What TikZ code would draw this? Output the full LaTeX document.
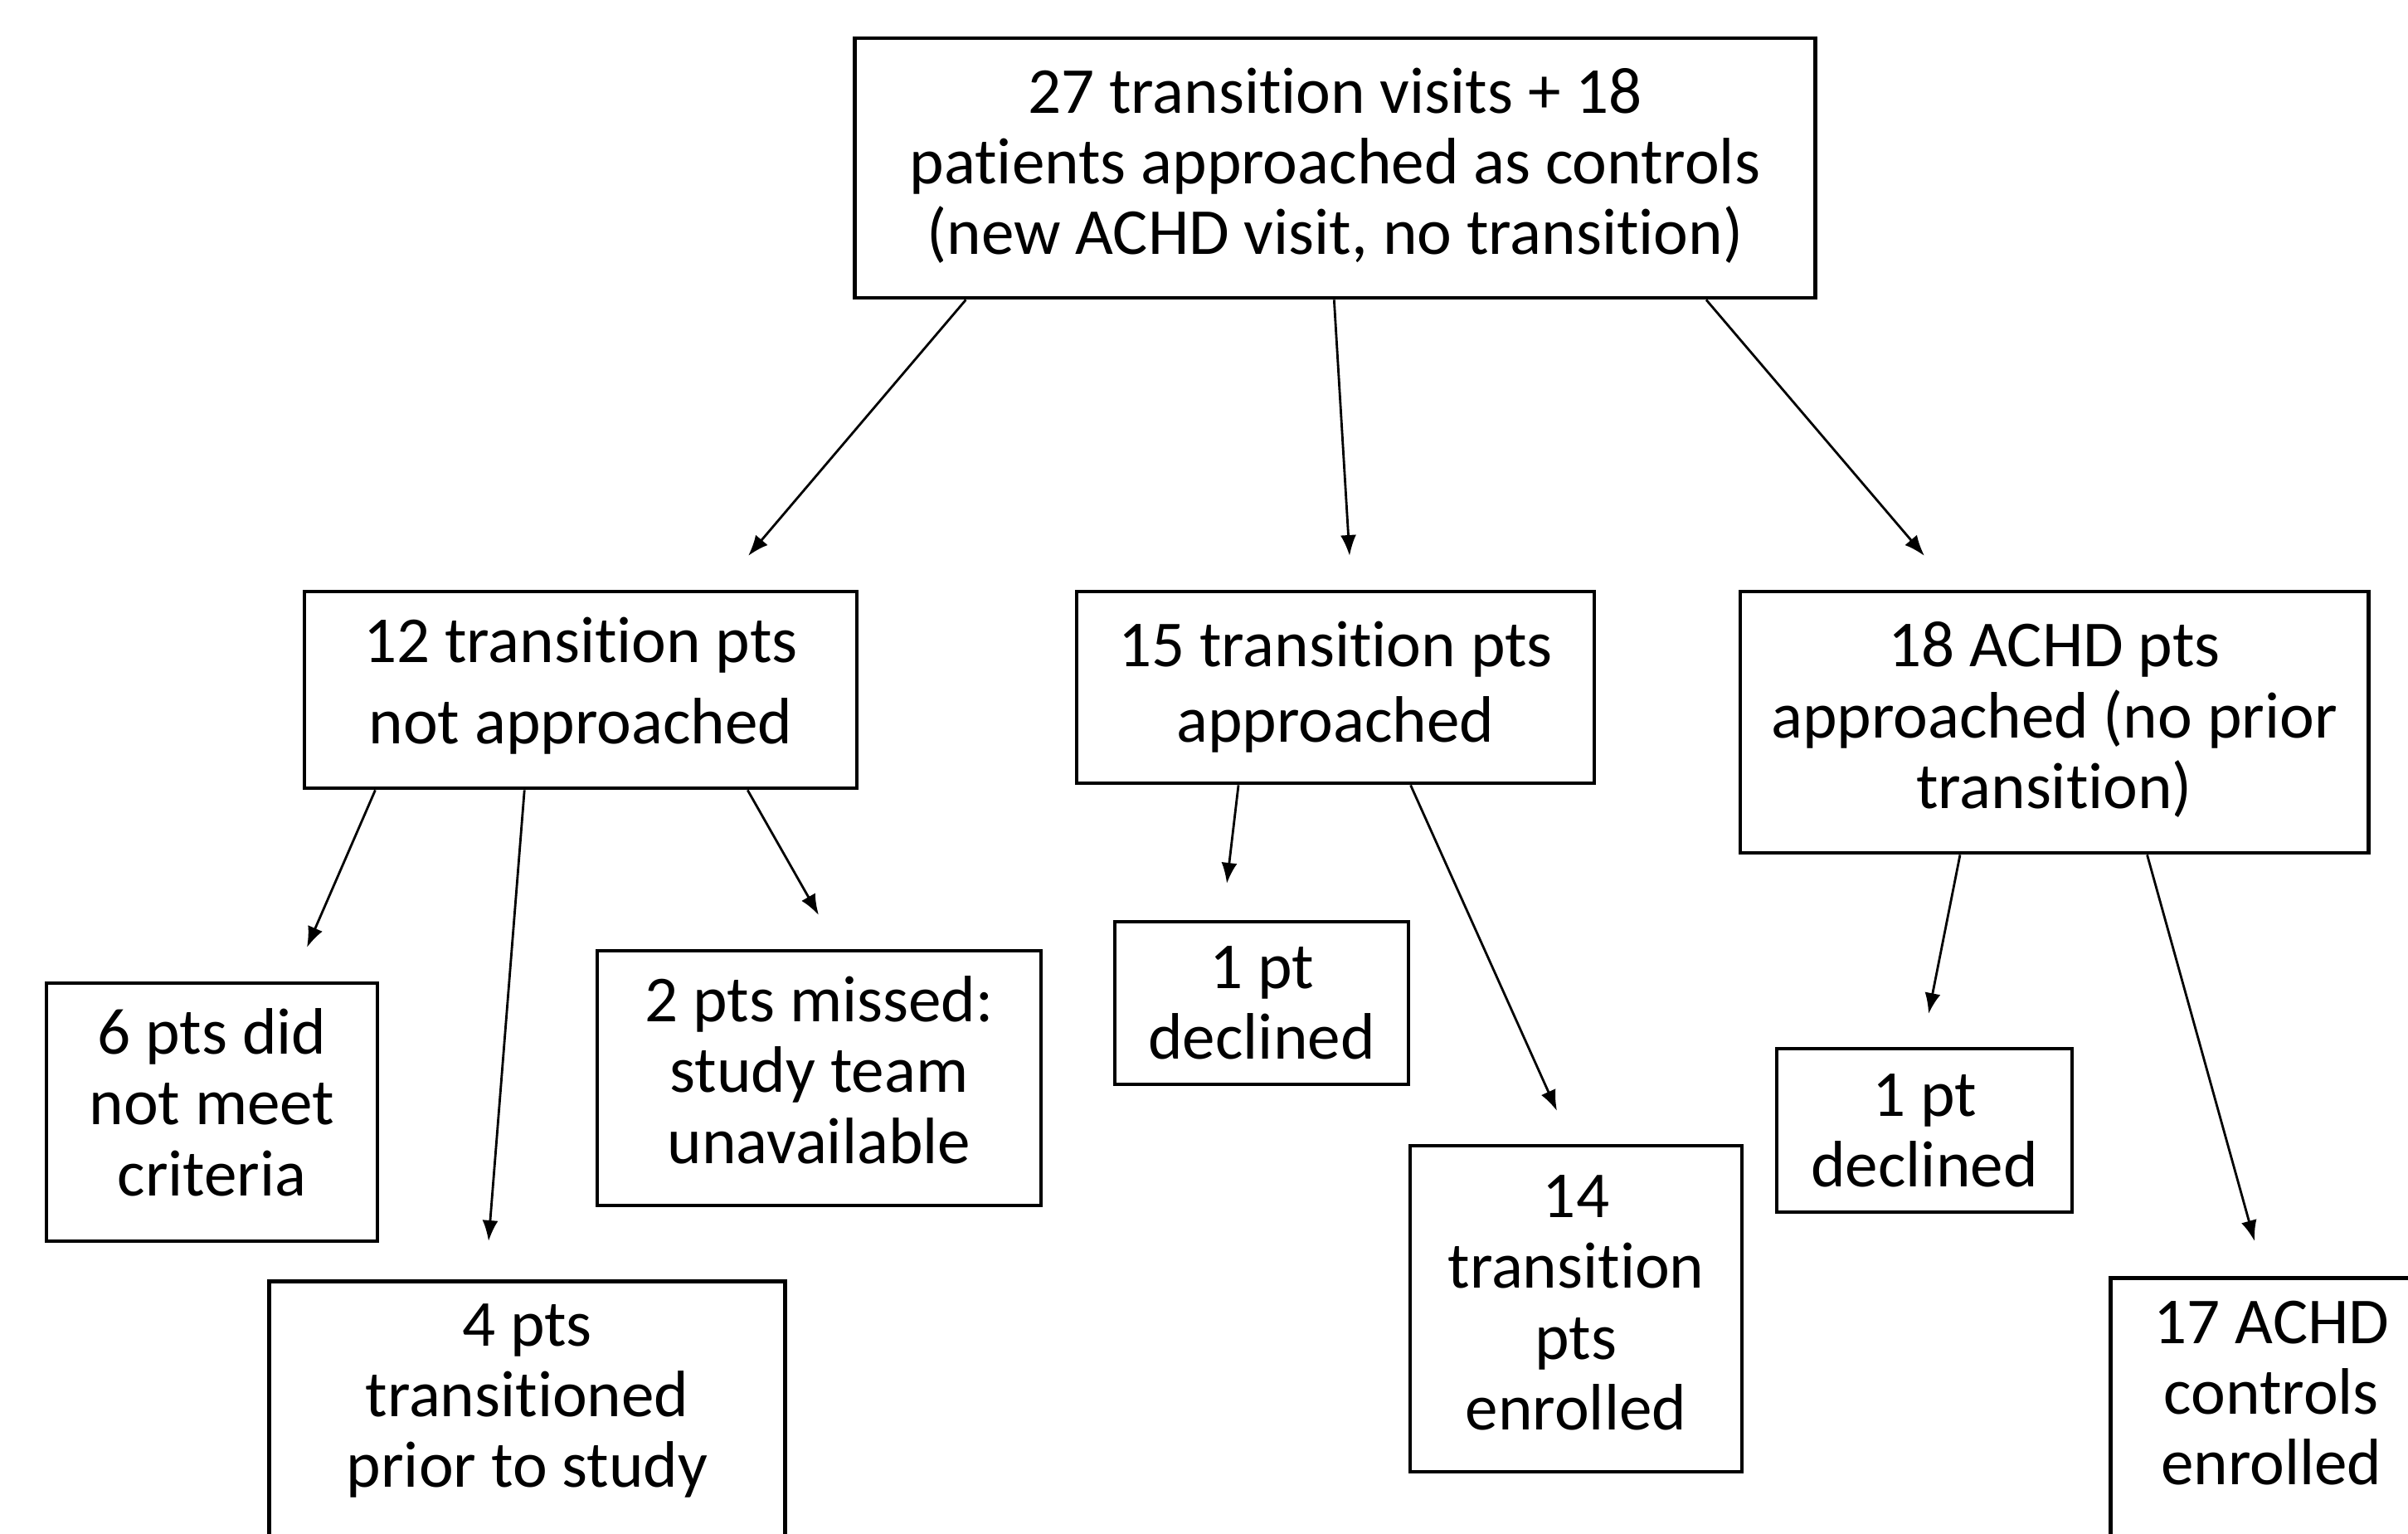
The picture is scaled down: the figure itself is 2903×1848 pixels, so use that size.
\documentclass[tikz,border=0pt]{standalone}
\usepackage{fontspec}
\setmainfont[Ligatures=NoCommon]{Carlito}
\usetikzlibrary{arrows.meta,calc}
\begin{document}
\begin{tikzpicture}[x=0.01cm,y=-0.01cm,
  box/.style={draw, line width=1.3pt, align=center, inner sep=0pt,
    font=\fontsize{22.5}{24.2}\selectfont},
  cutbox/.style={draw, line width=1.3pt, inner sep=0pt, anchor=north west,
    font=\fontsize{22.5}{24.2}\selectfont},
  raisetext/.style={execute at end node={\rule[-#1]{0pt}{0pt}}},
  arr/.style={line width=0.8pt, -{Latex[length=0.25cm,width=0.19cm]}}]
\useasboundingbox (0,0) rectangle (2903,1848);
\clip (0,0) rectangle (2903,1848);

% boxes
\node[box, raisetext=0.17cm, minimum width=11.57cm, minimum height=3.13cm] (top) at (1609.5,202.5)
  {27 transition visits + 18\\patients approached as controls\\(new ACHD visit, no transition)};
\node[box, raisetext=0.22cm, minimum width=6.66cm, minimum height=2.37cm,
  font=\fontsize{22.5}{27.9}\selectfont] (a) at (700,831.5)
  {12 transition pts\\not approached};
\node[box, raisetext=0.13cm, minimum width=6.24cm, minimum height=2.31cm,
  font=\fontsize{22.5}{25.9}\selectfont] (b) at (1610,828.5)
  {15 transition pts\\approached};
\node[box, raisetext=0.17cm, minimum width=7.57cm, minimum height=3.15cm] (c) at (2476.5,870.5)
  {18 ACHD pts\\approached (no prior\\transition)};

\node[box, raisetext=0.24cm, minimum width=3.99cm, minimum height=3.11cm] (a1) at (255.5,1340.5)
  {6 pts did\\not meet\\criteria};
\node[cutbox] (a2) at (322,1542)
  {\parbox[t][4cm][t]{6.22cm}{\centering\vspace*{0.27cm}4 pts\\transitioned\\prior to study}};
\node[box, raisetext=0.20cm, minimum width=5.35cm, minimum height=3.07cm] (a3) at (987.5,1299.5)
  {2 pts missed:\\study team\\unavailable};

\node[box, minimum width=3.54cm, minimum height=1.96cm] (b1) at (1521,1209)
  {1 pt\\declined};
\node[box, raisetext=0.15cm, minimum width=4.00cm, minimum height=3.93cm] (b2) at (1900,1577.5)
  {14\\transition\\pts\\enrolled};

\node[box, minimum width=3.56cm, minimum height=1.97cm] (c1) at (2320,1362.5)
  {1 pt\\declined};
\node[cutbox] (c2) at (2542,1538)
  {\parbox[t][4cm][t]{3.88cm}{\centering\vspace*{0.28cm}17 ACHD\\controls\\enrolled}};

% arrow tips (free ends)
\coordinate (t1) at (902,670);
\coordinate (t2) at (1627,670);
\coordinate (t3) at (2320,670);
\coordinate (t4) at (370,1142);
\coordinate (t5) at (589,1496);
\coordinate (t6) at (987,1103);
\coordinate (t7) at (1479,1065);
\coordinate (t8) at (1877,1339);
\coordinate (t9) at (2325,1222);
\coordinate (t10) at (2718,1496);

% connectors
\draw[arr] ($(top.south west)!0.117!(top.south east)$) -- (t1);
\draw[arr] ($(top.south west)!0.499!(top.south east)$) -- (t2);
\draw[arr] ($(top.south west)!0.885!(top.south east)$) -- (t3);
\draw[arr] ($(a.south west)!0.131!(a.south east)$) -- (t4);
\draw[arr] ($(a.south west)!0.399!(a.south east)$) -- (t5);
\draw[arr] ($(a.south west)!0.800!(a.south east)$) -- (t6);
\draw[arr] ($(b.south west)!0.314!(b.south east)$) -- (t7);
\draw[arr] ($(b.south west)!0.644!(b.south east)$) -- (t8);
\draw[arr] ($(c.south west)!0.351!(c.south east)$) -- (t9);
\draw[arr] ($(c.south west)!0.647!(c.south east)$) -- (t10);
\end{tikzpicture}
\end{document}
